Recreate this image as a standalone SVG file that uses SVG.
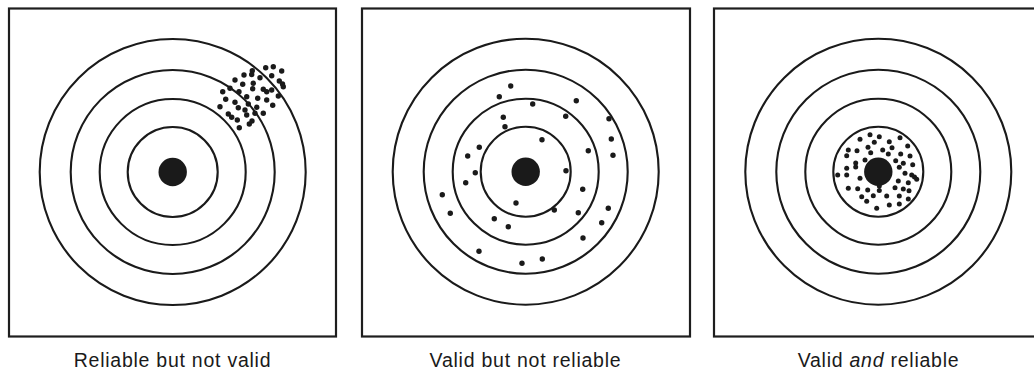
<svg xmlns="http://www.w3.org/2000/svg" xmlns:xlink="http://www.w3.org/1999/xlink" width="1034" height="372" viewBox="0 0 1034 372">
<style>
.box{fill:#fff;stroke:#1e1e1e;stroke-width:2.2}
.ring{fill:none;stroke:#1a1a1a;stroke-width:2.1}
.bull{fill:#1a1a1a}
.d{fill:#1a1a1a}
.d1 circle{r:2.7px}
.d2 circle{r:2.7px}
.d3 circle{r:2.5px}
.lbl{font-family:"Liberation Sans",Arial,Helvetica,sans-serif;font-size:19.5px;fill:#1a1a1a;text-anchor:middle;letter-spacing:0.75px}
</style>
<defs>
<g id="target">
<circle class="ring" r="133"/>
<circle class="ring" r="102"/>
<circle class="ring" r="73"/>
<circle class="ring" r="45"/>
<circle class="bull" r="14.2"/>
</g>
</defs>
<rect width="1034" height="372" fill="#fff"/>
<g id="panel-reliable-not-valid">
<rect class="box" x="9" y="8.5" width="327" height="328"/>
<use xlink:href="#target" x="172.7" y="172"/>
<g class="d d1">
<circle cx="252.3" cy="70.7" r="2.7"/><circle cx="251.7" cy="74.5" r="2.7"/>
<circle cx="265.7" cy="67.7" r="2.7"/><circle cx="273.3" cy="66.7" r="2.7"/>
<circle cx="281.7" cy="71" r="2.7"/><circle cx="244" cy="75" r="2.7"/>
<circle cx="260" cy="77.7" r="2.7"/><circle cx="271.7" cy="75.7" r="2.7"/>
<circle cx="279.3" cy="81" r="2.7"/><circle cx="283.3" cy="86.7" r="2.7"/><circle cx="282.5" cy="84" r="2.7"/>
<circle cx="235" cy="80" r="2.7"/><circle cx="242.7" cy="84.3" r="2.7"/>
<circle cx="253.3" cy="83.3" r="2.7"/><circle cx="263.3" cy="89.3" r="2.7"/>
<circle cx="266.7" cy="91.7" r="2.7"/><circle cx="278.3" cy="96" r="2.7"/>
<circle cx="230" cy="88.3" r="2.7"/><circle cx="239" cy="91.7" r="2.7"/>
<circle cx="252.7" cy="88.7" r="2.7"/><circle cx="271.7" cy="90" r="2.7"/>
<circle cx="222.7" cy="91.7" r="2.7"/><circle cx="246.7" cy="96.7" r="2.7"/>
<circle cx="257.7" cy="98.3" r="2.7"/><circle cx="266.7" cy="100" r="2.7"/>
<circle cx="225.7" cy="99.3" r="2.7"/><circle cx="235" cy="102.3" r="2.7"/>
<circle cx="248.3" cy="104" r="2.7"/><circle cx="256.7" cy="107.3" r="2.7"/>
<circle cx="272.7" cy="105.3" r="2.7"/><circle cx="220" cy="106.7" r="2.7"/>
<circle cx="238.3" cy="107.7" r="2.7"/><circle cx="245" cy="110" r="2.7"/>
<circle cx="246.7" cy="115" r="2.7"/><circle cx="255" cy="113.3" r="2.7"/>
<circle cx="263.3" cy="113.3" r="2.7"/><circle cx="228.3" cy="114" r="2.7"/>
<circle cx="231.7" cy="117.3" r="2.7"/><circle cx="237.3" cy="120" r="2.7"/>
<circle cx="249.3" cy="124" r="2.7"/><circle cx="239.3" cy="127.7" r="2.7"/>
<circle cx="252" cy="121" r="2.7"/>
</g>
</g>
<g id="panel-valid-not-reliable">
<rect class="box" x="362" y="8.5" width="328" height="328"/>
<use xlink:href="#target" x="525.7" y="171.7"/>
<g class="d d2">
<circle cx="510.7" cy="86" r="2.7"/><circle cx="499.3" cy="96.7" r="2.7"/>
<circle cx="576.3" cy="100.7" r="2.7"/><circle cx="532.7" cy="104" r="2.7"/>
<circle cx="503.3" cy="117.3" r="2.7"/><circle cx="565.7" cy="116.3" r="2.7"/>
<circle cx="609" cy="118.7" r="2.7"/><circle cx="505" cy="126.7" r="2.7"/>
<circle cx="611.3" cy="139" r="2.7"/><circle cx="542" cy="139.7" r="2.7"/>
<circle cx="479.3" cy="147.3" r="2.7"/><circle cx="588.3" cy="150.7" r="2.7"/>
<circle cx="467.7" cy="156" r="2.7"/><circle cx="613" cy="155.3" r="2.7"/>
<circle cx="475.3" cy="172.7" r="2.7"/><circle cx="566" cy="170.7" r="2.7"/>
<circle cx="465.7" cy="182.7" r="2.7"/><circle cx="582.7" cy="189.3" r="2.7"/>
<circle cx="442.3" cy="194.7" r="2.7"/><circle cx="516" cy="203" r="2.7"/>
<circle cx="554.3" cy="210" r="2.7"/><circle cx="608.3" cy="208.3" r="2.7"/>
<circle cx="450.3" cy="213.3" r="2.7"/><circle cx="578.3" cy="212.7" r="2.7"/>
<circle cx="494.3" cy="218.7" r="2.7"/><circle cx="601.7" cy="222.7" r="2.7"/>
<circle cx="508.3" cy="226.7" r="2.7"/><circle cx="583" cy="238" r="2.7"/>
<circle cx="479" cy="251.3" r="2.7"/><circle cx="542.3" cy="259" r="2.7"/>
<circle cx="522" cy="263.3" r="2.7"/>
</g>
</g>
<g id="panel-valid-and-reliable">
<rect class="box" x="714" y="8.5" width="328" height="328"/>
<use xlink:href="#target" x="878.3" y="171.7"/>
<g class="d d3">
<circle cx="870" cy="134.7" r="2.5"/><circle cx="879.3" cy="136.7" r="2.5"/>
<circle cx="860" cy="139.3" r="2.5"/><circle cx="900" cy="137.7" r="2.5"/>
<circle cx="874.3" cy="142.3" r="2.5"/><circle cx="889.3" cy="141.7" r="2.5"/>
<circle cx="868" cy="147.3" r="2.5"/><circle cx="882.7" cy="150" r="2.5"/>
<circle cx="907.7" cy="146" r="2.5"/><circle cx="848.3" cy="150" r="2.5"/>
<circle cx="857" cy="150.7" r="2.5"/><circle cx="870.7" cy="152.7" r="2.5"/>
<circle cx="892" cy="147.7" r="2.5"/><circle cx="888.3" cy="154" r="2.5"/>
<circle cx="900.7" cy="154" r="2.5"/><circle cx="910" cy="156" r="2.5"/>
<circle cx="846.7" cy="155.7" r="2.5"/><circle cx="865" cy="160" r="2.5"/>
<circle cx="895.7" cy="160.7" r="2.5"/><circle cx="903.3" cy="163.3" r="2.5"/>
<circle cx="912.7" cy="164.7" r="2.5"/><circle cx="855.7" cy="163" r="2.5"/>
<circle cx="855.7" cy="167" r="2.5"/><circle cx="846.7" cy="168.3" r="2.5"/>
<circle cx="899.3" cy="167.3" r="2.5"/><circle cx="837.7" cy="175" r="2.5"/>
<circle cx="846.7" cy="175" r="2.5"/><circle cx="860" cy="178.3" r="2.5"/>
<circle cx="905" cy="173.3" r="2.5"/><circle cx="911.7" cy="175" r="2.5"/>
<circle cx="914.5" cy="177" r="2.5"/><circle cx="916.7" cy="179.3" r="2.5"/>
<circle cx="898.3" cy="181" r="2.5"/><circle cx="908.3" cy="182.7" r="2.5"/>
<circle cx="848.3" cy="188.3" r="2.5"/><circle cx="857.7" cy="188.7" r="2.5"/>
<circle cx="867.7" cy="190" r="2.5"/><circle cx="879.3" cy="186" r="2.5"/>
<circle cx="879.3" cy="190.5" r="2.5"/><circle cx="895" cy="187.7" r="2.5"/>
<circle cx="903.3" cy="189" r="2.5"/><circle cx="909" cy="190.7" r="2.5"/>
<circle cx="861.7" cy="196.7" r="2.5"/><circle cx="873.3" cy="195.7" r="2.5"/>
<circle cx="886.7" cy="196" r="2.5"/><circle cx="899.3" cy="196" r="2.5"/>
<circle cx="908.3" cy="199" r="2.5"/><circle cx="866.7" cy="201.3" r="2.5"/>
<circle cx="876.7" cy="208.3" r="2.5"/><circle cx="889.3" cy="205" r="2.5"/>
<circle cx="899.3" cy="204" r="2.5"/>
</g>
</g>
<g id="connectors"/>
<g id="labels">
<text class="lbl" x="172.5" y="367">Reliable but not valid</text>
<text class="lbl" x="525.5" y="367">Valid but not reliable</text>
<text class="lbl" x="878.5" y="367">Valid <tspan font-style="italic">and</tspan> reliable</text>
</g>
</svg>
